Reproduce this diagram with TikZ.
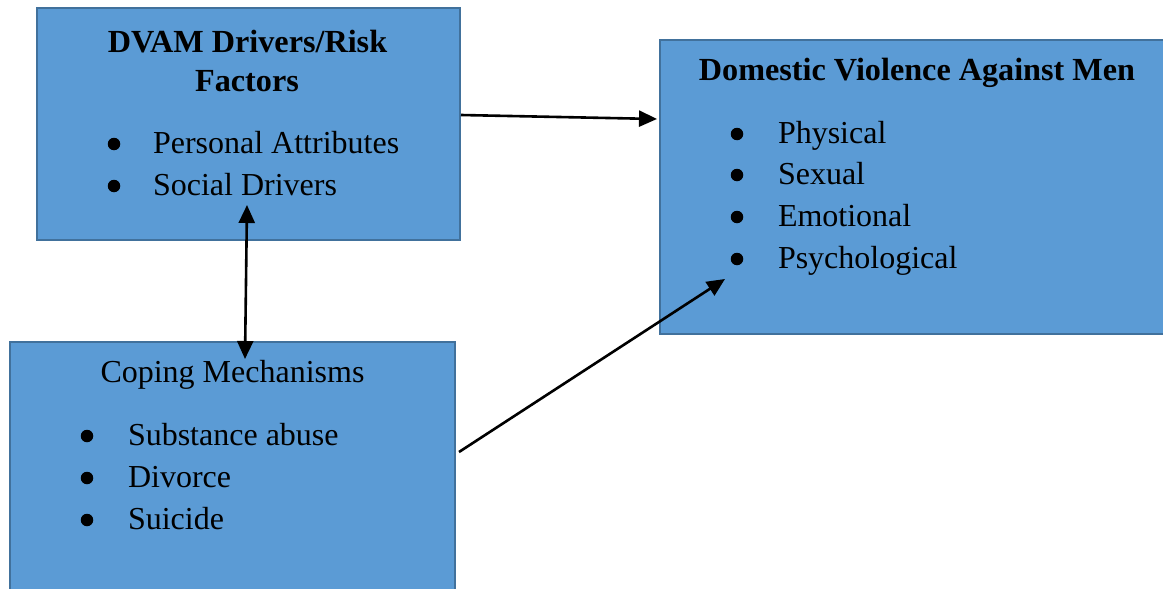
\documentclass[tikz,border=0pt]{standalone}
\usepackage{fontspec}
\setmainfont{Liberation Serif}
\usetikzlibrary{arrows.meta}
\definecolor{boxfill}{HTML}{5B9BD5}
\definecolor{boxline}{HTML}{41719C}
\tikzset{
  box/.style={rectangle, draw=boxline, fill=boxfill, line width=2.6pt, inner sep=0pt, outer sep=0pt},
  txt/.style={inner sep=0pt, outer sep=0pt, font=\fontsize{32}{36}\selectfont},
  ttl/.style={txt, font=\fontsize{32.2}{36}\selectfont\bfseries},
  bul/.style={inner sep=0pt, outer sep=0pt, circle, fill=black, minimum size=12.5pt},
  conn/.style={line width=2.6pt, -{Triangle[length=18pt,width=16pt]}},
  dconn/.style={line width=2.6pt, {Triangle[length=18pt,width=16pt]}-{Triangle[length=18pt,width=16pt]}}
}
\begin{document}
\begin{tikzpicture}[x=1pt,y=-1pt]
\useasboundingbox (0,0) rectangle (1163,589);
\clip (0,0) rectangle (1163,589);
% boxes
\node[box, minimum width=423pt, minimum height=232pt] (b1) at (248.5,124) {};
\node[box, minimum width=540pt, minimum height=294pt] (b2) at (930,187) {};
\node[box, minimum width=445pt, minimum height=278pt] (b3) at (232.5,481) {};
% box 1 texts
\node[ttl, anchor=base] (t1a) at (247.5,52) {DVAM Drivers/Risk};
\node[ttl, anchor=base] (t1b) at (247,91) {Factors};
\node[bul] (u1a) at (114,144) {};
\node[txt, anchor=base west] (i1a) at (153,153) {Personal Attributes};
\node[bul] (u1b) at (114,186) {};
\node[txt, anchor=base west] (i1b) at (153,195) {Social Drivers};
% box 2 texts
\node[ttl, anchor=base] (t2) at (917,80) {Domestic Violence Against Men};
\node[bul] (u2a) at (737,134) {};
\node[txt, anchor=base west] (i2a) at (778,143) {Physical};
\node[bul] (u2b) at (737,175) {};
\node[txt, anchor=base west] (i2b) at (778,184) {Sexual};
\node[bul] (u2c) at (737,217) {};
\node[txt, anchor=base west] (i2c) at (778,226) {Emotional};
\node[bul] (u2d) at (737,259) {};
\node[txt, anchor=base west] (i2d) at (778,268) {Psychological};
% box 3 texts
\node[txt, anchor=base] (t3) at (232.5,382) {Coping Mechanisms};
\node[bul] (u3a) at (87,436) {};
\node[txt, anchor=base west] (i3a) at (128,445) {Substance abuse};
\node[bul] (u3b) at (87,478) {};
\node[txt, anchor=base west] (i3b) at (128,487) {Divorce};
\node[bul] (u3c) at (87,520) {};
\node[txt, anchor=base west] (i3c) at (128,529) {Suicide};
% connector end points
\coordinate (a1s) at (461,115);
\coordinate (a1e) at (657,119);
\coordinate (a2s) at (247,205);
\coordinate (a2e) at (245,359);
\coordinate (a3s) at (459,452);
\coordinate (a3e) at (725,279);
\draw[conn] (a1s) -- (a1e);
\draw[dconn] (a2s) -- (a2e);
\draw[conn] (a3s) -- (a3e);
\end{tikzpicture}
\end{document}
